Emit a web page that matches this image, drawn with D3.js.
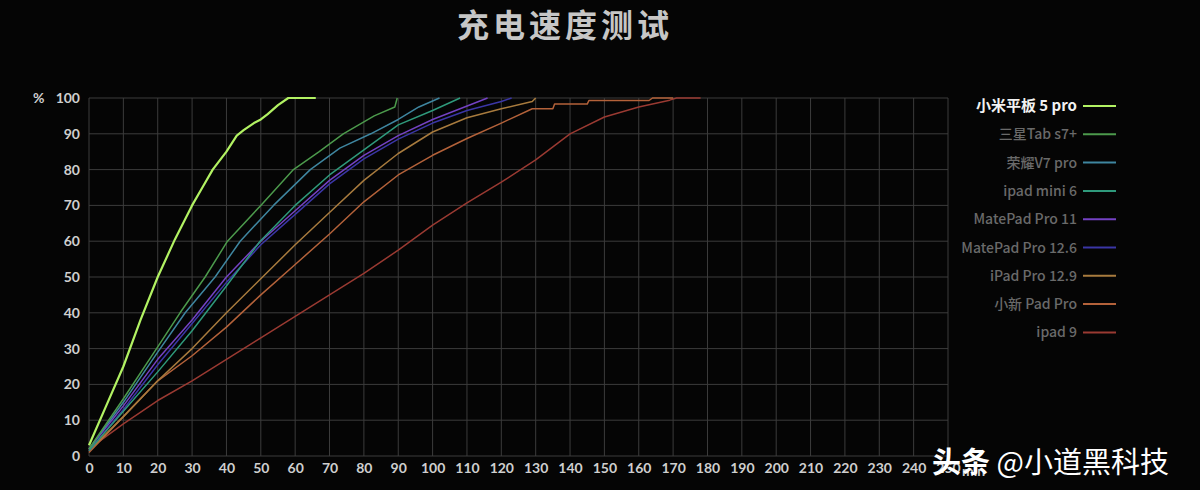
<!DOCTYPE html>
<html><head><meta charset="utf-8">
<script src="https://cdn.jsdelivr.net/npm/d3@7/dist/d3.min.js"></script>
<style>html,body{margin:0;padding:0;background:#050505;}svg{display:block;}</style>
</head><body>
<svg id="chart" width="1200" height="490"></svg>
<script>
const title = "充电速度测试";
const seriesNames = ["小米平板 5 pro","三星Tab s7+","荣耀V7 pro","ipad mini 6","MatePad Pro 11","MatePad Pro 12.6","iPad Pro 12.9","小新 Pad Pro","ipad 9"];
const seriesColors = ["#b2f263","#4c9a4c","#3f86a0","#2f9a7c","#7442c4","#3b36a6","#a87b3e","#b4623a","#9a3a32"];
const xTicks = d3.range(0, 251, 10);
const yTicks = d3.range(0, 101, 10);

// [minutes, percent]
const xiaomi   = [[0,3],[5,14],[10,25],[15,38],[20,50],[25,60.5],[30,70],[33,75],[36,80],[40,85],[43,89.5],[45,91],[48,93],[50,94],[52,95.5],[55,98],[58,100],[66,100]];
const samsung  = [[0,2],[10,16],[20,30.5],[26.5,40],[33.8,50],[40.3,60],[50,70],[59.5,80],[67,85],[74,90],[83,95],[89,97.5],[89.7,100]];
const honor    = [[0,2],[10,15],[20,29],[28,40],[36.7,50],[44,60],[53.7,70],[64.4,80],[73,86],[82,90],[90,94],[96,97.5],[102,100]];
const ipadMini = [[0,1.5],[10,12.5],[20,23.5],[30,35],[40,47.5],[49.8,60],[60,70],[70,78.5],[80,85.5],[90,92.5],[100,96.5],[108,100]];
const mate11   = [[0,2],[10,14],[20,27],[30,38],[40,50],[50,60],[60,68.5],[70,77],[80,84],[90,89.5],[100,94],[108,97],[116,100]];
const mate126  = [[0,1.5],[10,13],[20,25.5],[30,37],[40,48.5],[50,59],[60,67.5],[70,76],[80,83],[90,88.5],[100,93],[110,96.5],[120,99],[123,100]];
const ipadPro  = [[0,1.5],[10,11],[20,21],[30,30],[40,40],[50,49.5],[60,59],[70,68],[80,77],[90,84.5],[100,90.5],[110,94.5],[120,97],[129,99],[130,100]];
const xiaoxin  = [[0,1],[10,11],[20,21],[30,28],[40,36],[50,45],[60,53.5],[70,62],[80,71],[90,78.5],[100,84],[110,88.7],[120,93],[129,97],[135,97],[135.5,98.3],[145,98.3],[145.5,99.3],[163,99.3],[164,100],[170,100]];
const ipad9    = [[0,2],[10,9],[20,15.5],[30,21],[40,27],[50,33],[60,39],[70,45],[80,51],[90,57.5],[100,64.5],[110,70.7],[120,76.5],[130,82.7],[140,90],[150,94.7],[160,97.5],[169,99.4],[171,100],[178,100]];
const seriesData = [xiaomi, samsung, honor, ipadMini, mate11, mate126, ipadPro, xiaoxin, ipad9];

const svg = d3.select("#chart");
svg.append("rect").attr("width",1200).attr("height",490).attr("fill","#050505");

const x = d3.scaleLinear().domain([0,250]).range([89,948]);
const y = d3.scaleLinear().domain([0,100]).range([456,98]);

// title
svg.append("text").attr("x",565).attr("y",37).attr("text-anchor","middle")
  .attr("font-family","'Noto Sans CJK SC'").attr("font-weight",700).attr("font-size",32)
  .attr("letter-spacing",4).attr("fill","#c6c6c6").text(title);

// grid
const grid = svg.append("g");
grid.selectAll("line.v").data(xTicks).join("line").attr("class","v")
  .attr("x1",d=>x(d)).attr("x2",d=>x(d)).attr("y1",y(0)).attr("y2",y(100))
  .attr("stroke","#3c3c3c").attr("stroke-width",1);
grid.selectAll("line.h").data(yTicks).join("line").attr("class","h")
  .attr("x1",x(0)).attr("x2",x(250)).attr("y1",d=>y(d)).attr("y2",d=>y(d))
  .attr("stroke","#3c3c3c").attr("stroke-width",1);

// axes (labels only)
const xAxis = d3.axisBottom(x).tickValues(xTicks).tickSize(0).tickPadding(7);
const gx = svg.append("g").attr("transform",`translate(0,${y(0)})`).call(xAxis);
gx.select(".domain").remove();
gx.selectAll("text").attr("font-family","Lato, 'Open Sans', sans-serif").attr("font-weight",700)
  .attr("font-size",14).attr("fill","#cfcfcf");
const yAxis = d3.axisLeft(y).tickValues(yTicks).tickSize(0).tickPadding(9);
const gy = svg.append("g").attr("transform",`translate(${x(0)},0)`).call(yAxis);
gy.select(".domain").remove();
gy.selectAll("text").attr("font-family","Lato, 'Open Sans', sans-serif").attr("font-weight",700)
  .attr("font-size",14).attr("fill","#cfcfcf");
svg.append("text").attr("x",33).attr("y",y(100)+5).attr("font-family","Lato, sans-serif")
  .attr("font-weight",700).attr("font-size",14).attr("fill","#cfcfcf").text("%");
svg.append("text").attr("x",x(250)+14).attr("y",y(0)+20).attr("font-family","Lato, sans-serif")
  .attr("font-weight",700).attr("font-size",14).attr("fill","#cfcfcf").text("min");

// lines
const line = d3.line().x(d=>x(d[0])).y(d=>y(d[1]));
const order = [8,7,6,5,4,3,2,1,0];
svg.append("g").selectAll("path").data(order).join("path")
  .attr("d",i=>line(seriesData[i])).attr("fill","none")
  .attr("stroke",i=>seriesColors[i]).attr("stroke-width",i=>i===0?2.2:1.5)
  .attr("stroke-linejoin","round");

// legend
const lg = svg.append("g");
seriesNames.forEach((name,i)=>{
  const yy = 106 + i*28.3;
  lg.append("text").attr("x",1077).attr("y",yy+5).attr("text-anchor","end")
    .attr("font-family","'Noto Sans CJK SC'").attr("font-size",i===0?15:14)
    .attr("font-weight",i===0?700:500).attr("fill",i===0?"#f2f2f2":"#6a6a6a").text(name);
  lg.append("line").attr("x1",1083).attr("x2",1116).attr("y1",yy).attr("y2",yy)
    .attr("stroke",seriesColors[i]).attr("stroke-width",2);
});

// watermark (overlaps the last x labels, as in the reference)
const wm = svg.append("text").attr("x",932).attr("y",473).attr("font-family","'Noto Sans CJK SC'")
  .attr("font-size",29).attr("fill","#ffffff");
wm.append("tspan").attr("font-weight",700).text("头条");
wm.append("tspan").attr("font-weight",400).text(" @小道黑科技");
</script>
</body></html>
